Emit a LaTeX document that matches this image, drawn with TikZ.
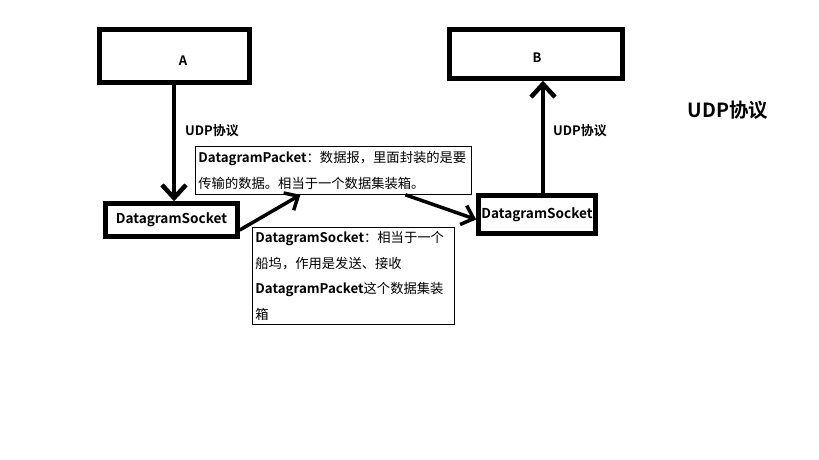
\documentclass[tikz,border=0pt]{standalone}
\usepackage{fontspec}
\setmainfont{Noto Sans CJK SC}[BoldFont={Noto Sans CJK SC Bold}]
\usetikzlibrary{arrows.meta,positioning}

\begin{document}
\begin{tikzpicture}[x=1pt,y=-1pt,font=\fontsize{13.3}{25.5}\selectfont,
  host/.style={draw,line width=4.5pt,minimum width=150pt,minimum height=53pt},
  sock/.style={draw,line width=4.5pt,inner sep=0pt,font=\fontsize{13.6}{15}\selectfont\bfseries},
  note/.style={draw,line width=0.8pt,anchor=north west,align=left,inner sep=3pt},
  flow/.style={line width=4.5pt,-{Straight Barb[length=13pt,width=24pt]}},
  pass/.style={line width=3.5pt,-{Straight Barb[length=11pt,width=20pt]}},
  lbl/.style={font=\fontsize{13}{15}\selectfont\bfseries}]
\useasboundingbox (0,0) rectangle (819,460);
% hosts
\node[host,minimum width=150pt] (A) at (174.5,56) {};
\node[lbl] at (183,61) {A};
\node[host,minimum width=173pt,minimum height=49pt] (B) at (536,54) {};
\node[lbl] at (537,58) {B};
% sockets
\node[sock,minimum width=132pt,minimum height=33pt] (sockL) at (171.5,220) {DatagramSocket};
\node[sock,minimum width=117pt,minimum height=38pt] (sockR) at (537,214.5) {DatagramSocket};
% notes
\node[note,text width=270pt,minimum height=48pt] (pkt) at (195,146)
  {\textbf{DatagramPacket}：数据报，里面封装的是要\\传输的数据。相当于一个数据集装箱。};
\node[note,text width=196pt,minimum height=97pt] (desc) at (252,227)
  {\textbf{DatagramSocket}：相当于一个\\船坞，作用是发送、接收\\\textbf{DatagramPacket}这个数据集装\\箱};
% arrows
\draw[flow] (A.south -| 174,0) -- (sockL.north -| 174,0);
\node[lbl] at (212,131) {UDP协议};
\draw[flow] ([xshift=6pt]sockR.north) -- ([xshift=6pt]sockR.north |- B.south);
\node[lbl] at (580,131) {UDP协议};
\draw[pass] ([yshift=-10pt]sockL.east) -- ([xshift=-33pt]pkt.south);
\draw[pass] ([xshift=72pt]pkt.south) -- ([yshift=-5pt]sockR.west);
\node[font=\fontsize{19.5}{22}\selectfont\bfseries] (title) at (728,110) {UDP协议};
\end{tikzpicture}
\end{document}
